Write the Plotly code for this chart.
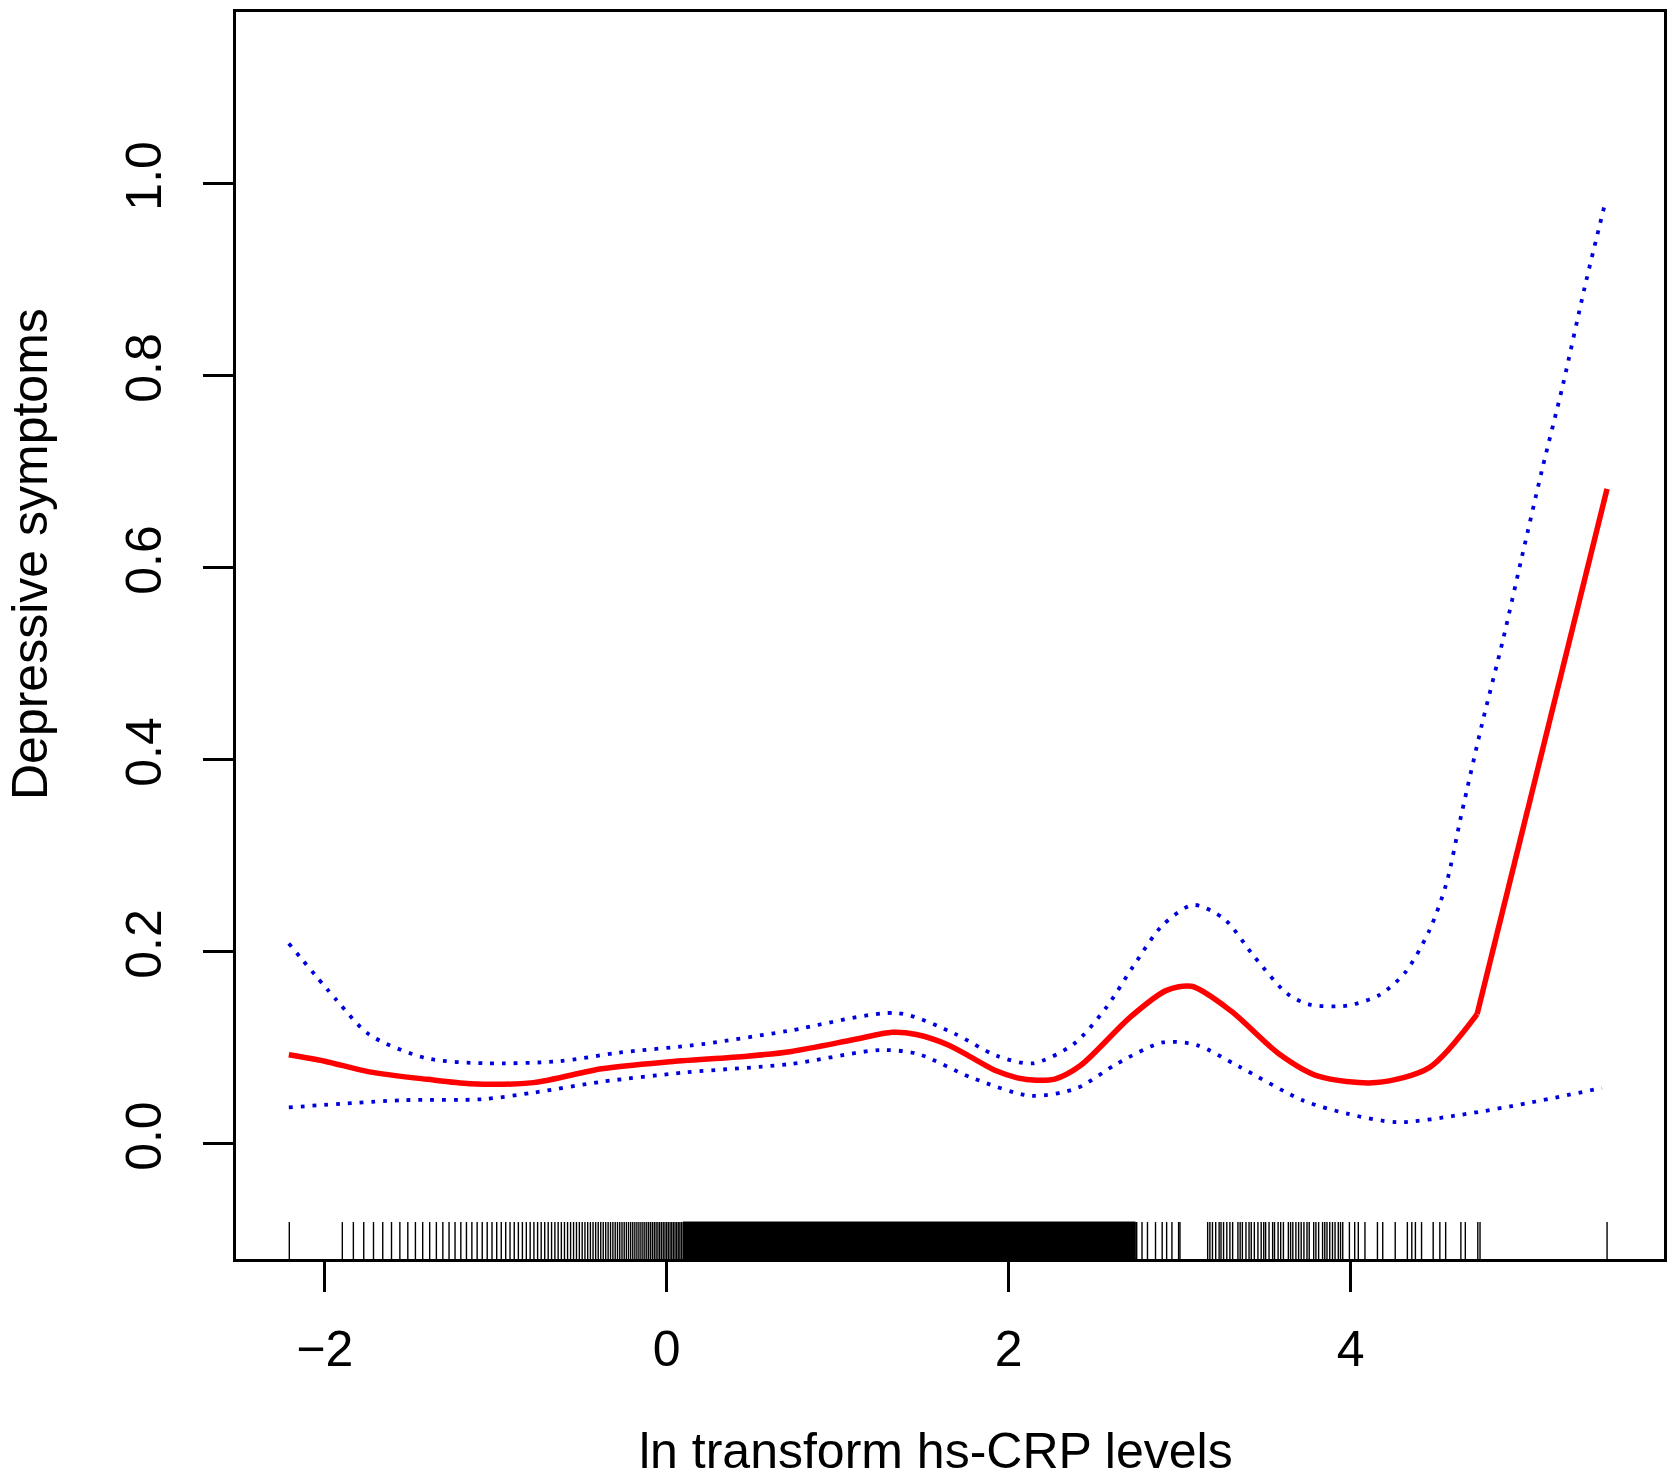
import numpy as np
import plotly.graph_objects as go

# ---------------- data ----------------
# fitted curve (ln hs-CRP, depressive symptoms)
fit_x = [-2.21, -2.00, -1.74, -1.40, -1.15, -0.78, -0.38, 0.00, 0.47, 0.73,
         1.09, 1.32, 1.46, 1.65, 1.80, 1.93, 2.05, 2.16, 2.27, 2.42,
         2.71, 2.92, 3.07, 3.30, 3.58, 3.81, 4.15, 4.46, 4.74, 5.50]
fit_y = [0.0925, 0.0858, 0.0747, 0.0669, 0.0624, 0.0635, 0.0780, 0.0850, 0.0910, 0.0960,
         0.1081, 0.1159, 0.1136, 0.1025, 0.0880, 0.0755, 0.0685, 0.0660, 0.0672, 0.0813,
         0.1315, 0.1593, 0.1638, 0.1382, 0.0936, 0.0702, 0.0635, 0.0791, 0.1348, 0.6819]

# upper confidence band
up_x = [-2.21, -1.93, -1.74, -1.41, -1.06, -0.63, -0.28, 0.21, 0.70, 1.35,
        1.68, 1.93, 2.14, 2.38, 2.57, 2.73, 2.90, 3.08, 3.26, 3.44,
        3.63, 3.76, 3.98, 4.17, 4.32, 4.46, 4.56, 4.65, 4.77, 4.89,
        5.00, 5.12, 5.24, 5.37, 5.49]
up_y = [0.2084, 0.1493, 0.1136, 0.0891, 0.0836, 0.0858, 0.0947, 0.1036, 0.1170, 0.1359,
        0.1148, 0.0914, 0.0836, 0.1036, 0.1415, 0.1850, 0.2273, 0.2485, 0.2340, 0.1939,
        0.1560, 0.1448, 0.1437, 0.1549, 0.1783, 0.2217, 0.2708, 0.3443, 0.4379, 0.5237,
        0.6095, 0.7019, 0.7889, 0.8925, 0.9805]

# lower confidence band
lo_x = [-2.21, -1.54, -1.08, -0.77, -0.38, 0.11, 0.72, 1.25, 1.47, 1.78,
        2.13, 2.40, 2.63, 2.90, 3.10, 3.35, 3.72, 3.98, 4.27, 4.65,
        5.04, 5.47]
lo_y = [0.0377, 0.0452, 0.0462, 0.0533, 0.0644, 0.0741, 0.0828, 0.0974, 0.0933, 0.0689,
        0.0498, 0.0578, 0.0828, 0.1053, 0.1026, 0.0800, 0.0450, 0.0312, 0.0223, 0.0301,
        0.0423, 0.0579]

# rug: observed hs-CRP (mg/L) in the sparse lower range
rug_crp_low = [0.11,
               0.15, 0.16, 0.17, 0.18, 0.19, 0.20, 0.21, 0.22, 0.23, 0.24,
               0.25, 0.26, 0.27, 0.28, 0.29, 0.30, 0.31, 0.32, 0.33, 0.34,
               0.35, 0.36, 0.37, 0.38, 0.39, 0.40, 0.41, 0.42, 0.43, 0.44,
               0.45, 0.46, 0.47, 0.48, 0.49, 0.50, 0.51, 0.52, 0.53, 0.54,
               0.55, 0.56, 0.57, 0.58, 0.59, 0.60, 0.61, 0.62, 0.63, 0.64,
               0.65, 0.66, 0.67, 0.68, 0.69, 0.70, 0.71, 0.72, 0.73, 0.74,
               0.75, 0.76, 0.77, 0.78, 0.79, 0.80, 0.81, 0.82, 0.83, 0.84,
               0.85, 0.86, 0.87, 0.88, 0.89, 0.90, 0.91, 0.92, 0.93, 0.94,
               0.95, 0.96, 0.97, 0.98, 0.99, 1.00, 1.01, 1.02, 1.03, 1.04,
               1.05, 1.06, 1.07, 1.08, 1.09]
# rug: densely packed region (ln units, start / end)
rug_dense_ln = [0.095, 2.741]
# rug: individual upper values (ln units)
rug_ln_high = [2.749, 2.780, 2.812, 2.859, 2.898, 2.924, 2.955, 2.994, 3.002,
               3.164, 3.177, 3.192, 3.211, 3.231, 3.242, 3.257, 3.276, 3.294, 3.310,
               3.341, 3.354, 3.367, 3.388, 3.406, 3.419, 3.437, 3.458, 3.477, 3.492,
               3.503, 3.523, 3.544, 3.555, 3.576, 3.591, 3.607, 3.636, 3.649, 3.662,
               3.680, 3.696, 3.711, 3.727, 3.745, 3.758, 3.784, 3.797, 3.813, 3.836,
               3.849, 3.862, 3.878, 3.894, 3.909, 3.928, 3.941, 3.954,
               3.993, 4.024, 4.045, 4.084, 4.157, 4.188, 4.261, 4.332, 4.358, 4.379,
               4.415, 4.483, 4.522, 4.556, 4.645, 4.671, 4.744, 4.757, 5.500]

x_ticks = [-2, 0, 2, 4]
y_ticks = [0.0, 0.2, 0.4, 0.6, 0.8, 1.0]

x_title = "ln transform hs-CRP levels"
y_title = "Depressive symptoms"

# ---------------- layout constants ----------------
W, H = 1676, 1479
ML, MR, MT, MB = 236, 9, 11, 220
X_RANGE = [-2.519, 5.833]
Y_RANGE = [-0.1202, 1.1785]
RUG_TOP = -0.0817
FONT = "Liberation Sans, Arial, Helvetica, sans-serif"
FS = 50

fig = go.Figure()

# rug
rug_vals = list(np.log(rug_crp_low)) + rug_ln_high
rx, ry = [], []
for v in rug_vals:
    rx += [v, v, None]
    ry += [RUG_TOP, Y_RANGE[0], None]
fig.add_trace(go.Scatter(x=rx, y=ry, mode="lines",
                         line=dict(color="black", width=1.4),
                         hoverinfo="skip", showlegend=False))
a, b = rug_dense_ln
fig.add_trace(go.Scatter(x=[a, a, b, b, a], y=[RUG_TOP, Y_RANGE[0], Y_RANGE[0], RUG_TOP, RUG_TOP],
                         mode="lines", fill="toself", fillcolor="black",
                         line=dict(color="black", width=1),
                         hoverinfo="skip", showlegend=False))

# confidence bands
for bx, by in [(up_x, up_y), (lo_x, lo_y)]:
    fig.add_trace(go.Scatter(x=bx, y=by, mode="lines",
                             line=dict(color="#0000dd", width=3.8, dash="3.8px,8px",
                                       shape="spline", smoothing=0.8),
                             showlegend=False))

# fitted curve: smooth part + straight last segment
fig.add_trace(go.Scatter(x=fit_x[:-1], y=fit_y[:-1], mode="lines",
                         line=dict(color="#ff0000", width=5.5, shape="spline", smoothing=0.8),
                         showlegend=False))
fig.add_trace(go.Scatter(x=fit_x[-2:], y=fit_y[-2:], mode="lines",
                         line=dict(color="#ff0000", width=5.5),
                         showlegend=False))

axis_common = dict(showgrid=False, zeroline=False, showline=True, mirror=True,
                   linecolor="black", linewidth=2.5, ticks="outside", ticklen=30,
                   tickwidth=2.5, tickcolor="black",
                   tickfont=dict(family=FONT, size=FS, color="black"))

fig.update_xaxes(range=X_RANGE, tickmode="array", tickvals=x_ticks,
                 ticklabelstandoff=14, **axis_common)
fig.update_yaxes(range=Y_RANGE, tickmode="array", tickvals=y_ticks,
                 ticktext=[f"{v:.1f}" for v in y_ticks], tickangle=-90,
                 ticklabelstandoff=22, **axis_common)

fig.add_annotation(text=x_title, xref="paper", yref="paper",
                   x=(937 - ML) / (W - ML - MR), y=-(1451 - (H - MB)) / (H - MT - MB),
                   xanchor="center", yanchor="middle", showarrow=False,
                   font=dict(family=FONT, size=FS, color="black"))
fig.add_annotation(text=y_title, xref="paper", yref="paper",
                   x=(29 - ML) / (W - ML - MR), y=((H - MB) - 553) / (H - MT - MB),
                   xanchor="center", yanchor="middle", textangle=-90, showarrow=False,
                   font=dict(family=FONT, size=FS, color="black"))

fig.update_layout(width=W, height=H, margin=dict(l=ML, r=MR, t=MT, b=MB),
                  paper_bgcolor="white", plot_bgcolor="white", showlegend=False)

fig.write_html("out.html", config={"displayModeBar": False},
               post_script="document.body.style.margin='0';document.body.style.padding='0';")
